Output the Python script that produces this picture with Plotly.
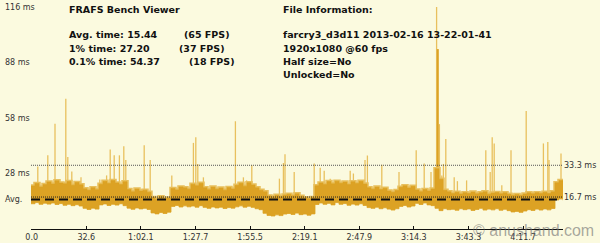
import plotly.graph_objects as go

# ---------------- data ----------------
# frame-time envelope (ms), one sample per ~4 px column of the reference
band_hi = [22.5, 23.8, 22.0, 23.2,
           24.6, 23.5, 25.2, 24.0,
           23.6, 24.8, 22.9, 24.3, 23.1,
           21.0, 20.2, 21.6, 20.5,
           23.4, 24.9, 23.8, 25.3, 24.1, 23.2, 24.7,
           20.6, 19.4, 20.9, 19.8, 20.3, 19.2,
           16.4, 15.6, 16.8, 15.9, 16.2,
           21.2, 20.4, 22.0, 21.5, 20.8,
           23.4, 22.6, 23.9,
           21.6, 20.5, 21.9, 20.8, 21.4, 20.3, 21.7, 20.9,
           22.8, 23.9, 22.4, 24.2, 23.0,
           21.5, 20.2,
           19.4, 17.3, 16.8, 17.6, 16.9, 17.8,
           18.2, 17.4, 18.4, 17.1, 16.3, 15.8,
           16.5, 22.6, 24.1, 23.3, 24.8, 23.6, 25.0, 23.9, 24.5, 23.2, 24.7, 23.8, 24.9, 23.5,
           21.6, 20.8, 21.9, 20.6, 21.3,
           19.8, 19.2, 20.1,
           21.8, 22.6, 21.4, 22.3,
           20.4, 19.5, 20.6, 19.8, 20.9,
           31.5,
           26.0,
           20.2, 19.4,
           18.6, 19.2, 18.3, 19.0, 18.5, 19.3, 18.4, 18.9, 19.4, 18.2, 18.8, 19.1, 18.4,
           18.9, 18.1, 17.6, 18.0, 17.5, 18.3, 18.9, 18.4, 19.0, 18.6, 19.2, 18.5, 19.4,
           24.2, 25.3, 24.6]
band_lo = [13.2, 13.8, 12.9, 13.5,
           13.0, 13.6, 12.8, 13.3,
           12.4, 12.9, 12.2, 12.7, 12.0,
           10.8, 10.2, 10.9, 10.4,
           12.6, 13.1, 12.3, 12.9, 12.5, 13.2, 12.2,
           10.9, 10.3, 11.0, 10.5, 10.8, 10.2,
           8.4, 7.9, 8.6, 8.1, 8.8,
           11.8, 12.3, 11.5, 12.1, 11.6,
           12.0, 11.4, 12.2,
           11.3, 10.8, 11.5, 11.0, 11.4, 10.7, 11.2, 10.9,
           11.6, 12.1, 11.4, 11.9, 11.3,
           10.6, 10.1,
           8.2, 7.1, 6.8, 7.4, 7.0, 7.8,
           8.1, 7.6, 8.3, 7.5, 7.8, 7.2,
           7.9, 12.8, 13.6, 12.9, 13.4, 12.6, 13.8, 12.9, 13.3, 12.4, 13.0, 12.5, 13.2, 12.3,
           11.2, 10.8, 11.4, 10.6, 11.1,
           10.4, 9.9, 10.6,
           11.8, 12.3, 11.5, 12.0,
           13.4, 12.8, 13.6, 12.6, 12.2,
           10.8,
           9.6,
           10.6, 10.1,
           10.3, 9.8, 10.6, 10.1, 10.5, 9.7, 10.2, 10.8, 9.9, 10.4, 10.0, 10.6, 9.8,
           10.3, 9.6, 8.9, 9.2, 8.7, 9.4, 10.1, 9.7, 10.4, 9.9, 10.5, 10.0, 10.7,
           15.2, 15.8, 15.0]

# isolated long frames: position (sample index) and frame time (ms)
spike_pos = [1.7, 4.2, 6.0, 8.7, 9.2, 10.2, 12.5, 17.2, 18.9, 19.8, 20.8, 22.1, 23.2, 23.7,
             28.3, 29.8, 35.2, 40.6, 41.2, 41.7, 43.1, 51.1, 53.1, 53.9, 55.2, 62.1, 63.1,
             63.5, 65.8, 70.8, 72.3, 73.3, 74.8, 79.8, 80.6, 83.5, 84.1, 87.7, 92.0, 96.3,
             98.3, 100.0, 101.4, 102.1, 102.7, 103.1, 103.7, 105.8, 106.6, 108.9, 113.7,
             114.8, 115.3, 115.8, 117.7, 120.0, 123.8, 128.1, 129.2, 129.5, 132.5]
spike_ms = [32.7, 38.5, 55.0, 68.0, 37.6, 30.0, 27.0, 25.8, 28.0, 41.5, 38.5, 38.5, 43.2, 36.0,
            43.8, 36.0, 28.0, 45.0, 48.0, 34.0, 27.0, 56.3, 27.0, 25.4, 33.3, 26.3, 34.5,
            39.0, 29.8, 34.2, 32.0, 30.5, 26.3, 30.5, 29.0, 36.0, 38.4, 33.6, 29.8, 41.2,
            34.2, 29.8, 116.0, 54.8, 28.0, 34.0, 47.0, 27.0, 25.0, 25.4, 41.2,
            29.8, 48.0, 44.7, 22.8, 41.2, 61.7, 44.7, 45.5, 36.0, 39.4]
big_spike_pos = [101.7]
big_spike_ms = [94.0]

avg_ms = 15.44
ref_ms = [33.3, 16.7]
ref_text = ["33.3 ms", "16.7 ms"]
y_label_ms = [116, 87.2, 58, 29.1]
y_label_text = ["116 ms", "88 ms", "58 ms", "28 ms"]
tick_labels = ["0.0", "32.6", "1:02.1", "1:27.7", "1:55.5", "2:19.1",
               "2:47.9", "3:14.3", "3:43.3", "4:11.7"]

stat_rows = ["Avg. time: 15.44", "1% time: 27.20", "0.1% time: 54.37"]
fps_rows = ["(65 FPS)", "(37 FPS)", "(18 FPS)"]
info_rows = ["farcry3_d3d11 2013-02-16 13-22-01-41", "1920x1080 @60 fps",
             "Half size=No", "Unlocked=No"]

# ---------------- styling / layout ----------------
W, H = 600, 243
ML, MR, MT, MB = 31, 37, 7, 14
PW, PH = W - ML - MR, H - MT - MB
BG = "#FBFADF"
GOLD = "#DCA224"
LIGHT = "#E8C05E"


def px_x(p):
    return (p - ML) / PW


def px_y(p):
    return (H - MB - p) / PH


n = len(band_hi)
idx = list(range(n))

fig = go.Figure()

# spikes (drawn beneath the band)
sx, sy = [], []
for p, v in zip(spike_pos, spike_ms):
    sx += [p, p, None]
    sy += [avg_ms, v, None]
fig.add_trace(go.Scatter(x=sx, y=sy, mode="lines",
                         line=dict(color=LIGHT, width=1.3), hoverinfo="skip"))
bx, by = [], []
for p, v in zip(big_spike_pos, big_spike_ms):
    bx += [p, p, None]
    by += [avg_ms, v, None]
fig.add_trace(go.Scatter(x=bx, y=by, mode="lines",
                         line=dict(color=GOLD, width=2), hoverinfo="skip"))

# light fringe along the top of the band
fig.add_trace(go.Scatter(x=idx, y=band_hi, mode="lines",
                         line=dict(color=LIGHT, width=3.5, shape="hv"), hoverinfo="skip"))

# band
fig.add_trace(go.Scatter(x=idx, y=band_lo, mode="lines",
                         line=dict(color=GOLD, width=0.8, shape="hv"), hoverinfo="skip"))
fig.add_trace(go.Scatter(x=idx, y=band_hi, mode="lines", fill="tonexty",
                         fillcolor=GOLD,
                         line=dict(color=GOLD, width=0.6, shape="hv"), hoverinfo="skip"))

# reference lines
x_end = n - 1
fig.add_trace(go.Scatter(x=[0, x_end], y=[ref_ms[0]] * 2, mode="lines",
                         line=dict(color="#555555", width=1, dash="1px,1px"), hoverinfo="skip"))
fig.add_trace(go.Scatter(x=[0, x_end], y=[ref_ms[1]] * 2, mode="lines",
                         line=dict(color="#222222", width=1, dash="1px,1px"), hoverinfo="skip"))
fig.add_trace(go.Scatter(x=[0, x_end - 1.5], y=[avg_ms] * 2, mode="lines",
                         line=dict(color="#111111", width=2, dash="9px,5px"), hoverinfo="skip"))

ann = []
small = dict(family="DejaVu Sans", size=8, color="#333333")
for v, t in zip(y_label_ms, y_label_text):
    ann.append(dict(x=px_x(3), xref="paper", y=v, yref="y", text=t, showarrow=False,
                    xanchor="left", yanchor="middle", font=small))
ann.append(dict(x=px_x(3), xref="paper", y=avg_ms, yref="y", text="Avg.", showarrow=False,
                xanchor="left", yanchor="middle", font=small))
for v, t in zip(ref_ms, ref_text):
    ann.append(dict(x=px_x(562), xref="paper", y=v, yref="y", text=t, showarrow=False,
                    xanchor="left", yanchor="middle", font=small))

bold = dict(family="DejaVu Sans", size=9.5, color="#111111")
ann.append(dict(x=px_x(67), xref="paper", y=px_y(9.5), yref="paper",
                text="<b>FRAFS Bench Viewer</b>", showarrow=False,
                xanchor="left", yanchor="middle", font=bold))
row_y = [34.5, 48.5, 61.5]
fps_x = [182, 177, 187]
for t, f, yy, fx in zip(stat_rows, fps_rows, row_y, fps_x):
    ann.append(dict(x=px_x(67), xref="paper", y=px_y(yy), yref="paper",
                    text="<b>" + t + "</b>", showarrow=False,
                    xanchor="left", yanchor="middle", font=bold))
    ann.append(dict(x=px_x(fx), xref="paper", y=px_y(yy), yref="paper",
                    text="<b>" + f + "</b>", showarrow=False,
                    xanchor="left", yanchor="middle", font=bold))
ann.append(dict(x=px_x(281), xref="paper", y=px_y(10), yref="paper",
                text="<b>File Information:</b>", showarrow=False,
                xanchor="left", yanchor="middle", font=bold))
for t, yy in zip(info_rows, [34, 48.5, 61.5, 74]):
    ann.append(dict(x=px_x(281), xref="paper", y=px_y(yy), yref="paper",
                    text="<b>" + t + "</b>", showarrow=False,
                    xanchor="left", yanchor="middle", font=bold))

# watermark (overlaps the last tick labels, as in the reference)
ann.append(dict(x=px_x(471), xref="paper", y=px_y(230), yref="paper",
                text="© anushand.com", showarrow=False, xanchor="left", yanchor="middle",
                font=dict(family="Liberation Sans", size=16, color="rgba(110,110,110,0.6)")))

tick_pos = [0.175 + 13.65 * k for k in range(len(tick_labels))]

fig.update_layout(
    width=W, height=H,
    margin=dict(l=ML, r=MR, t=MT, b=MB, pad=0),
    paper_bgcolor=BG, plot_bgcolor=BG,
    showlegend=False,
    annotations=ann,
    xaxis=dict(range=[0, n - 1], showgrid=False, zeroline=False,
               showline=True, linecolor="#111111", linewidth=1,
               ticks="inside", ticklen=3, tickcolor="#111111",
               tickvals=tick_pos, ticktext=tick_labels,
               tickfont=dict(family="DejaVu Sans", size=8, color="#333333"),
               automargin=False, fixedrange=True),
    yaxis=dict(range=[0, 116], showgrid=False, zeroline=False, showline=False,
               showticklabels=False, ticks="", automargin=False, fixedrange=True),
)

fig.write_html("out.html", config={"displayModeBar": False})
